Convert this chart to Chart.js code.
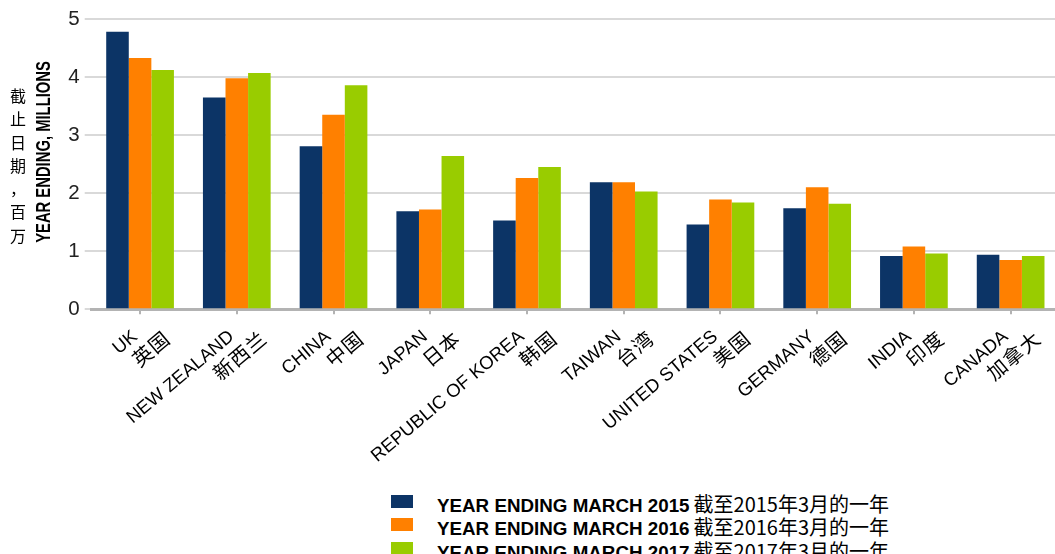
<!DOCTYPE html>
<html>
<head>
<meta charset="utf-8">
<script src="https://cdn.jsdelivr.net/npm/chart.js@4"></script>
<style>
  html, body { margin:0; padding:0; background:#fff; width:1055px; height:554px; overflow:hidden; }
  #wrap { position:absolute; left:0; top:0; width:1059px; height:480px; }
  #ytitle { position:absolute; left:43px; top:152px; transform: translate(-50%,-50%) rotate(-90deg) scaleX(0.74);
            font: bold 20px "Liberation Sans", Arial, sans-serif; white-space:nowrap; color:#000; }
  #ytitleZh { position:absolute; left:9px; top:84px; width:18px; text-align:center;
              font: 16px "Noto Sans CJK SC", sans-serif; line-height:23.3px; color:#000; }
  #legend { position:absolute; left:391px; top:489px; }
  .row { position:relative; height:23.3px; white-space:nowrap; }
  .box { position:absolute; left:0; top:6px; width:22px; height:13px; }
  .txt { position:absolute; left:46px; top:0; line-height:23.3px; color:#000; }
  .en { font: bold 18.8px "Liberation Sans", Arial, sans-serif; }
  .zh { font: 20px "Noto Sans CJK SC", sans-serif; }
</style>
</head>
<body>
<div id="wrap"><canvas id="c" width="1059" height="480"></canvas></div>
<div id="ytitle">YEAR ENDING, MILLIONS</div>
<div id="ytitleZh"></div>
<div id="legend"></div>
<script>
const categoriesEn = ['UK','NEW ZEALAND','CHINA','JAPAN','REPUBLIC OF KOREA','TAIWAN','UNITED STATES','GERMANY','INDIA','CANADA'];
const categoriesZh = ['英国','新西兰','中国','日本','韩国','台湾','美国','德国','印度','加拿大'];
const values2015 = [4.78,3.65,2.81,1.69,1.53,2.19,1.46,1.74,0.92,0.94];
const values2016 = [4.33,3.98,3.35,1.72,2.26,2.19,1.89,2.10,1.08,0.85];
const values2017 = [4.12,4.07,3.86,2.64,2.45,2.03,1.84,1.82,0.96,0.92];
const seriesEn = ['YEAR ENDING MARCH 2015','YEAR ENDING MARCH 2016','YEAR ENDING MARCH 2017'];
const seriesZh = ['截至2015年3月的一年','截至2016年3月的一年','截至2017年3月的一年'];
const seriesColors = ['#0c3466','#ff8000','#99cc00'];
const yTitleZh = ['截','止','日','期','，','百','万'];
const yTicks = [0,1,2,3,4,5];

const seriesValues = [values2015, values2016, values2017];

// Draws the two-part (English + Chinese) rotated category labels at the x scale's tick pixels
const xLabelPlugin = {
  id: 'xLabels',
  afterDraw(chart) {
    const xs = chart.scales.x;
    const ctx = chart.ctx;
    const base = chart.chartArea.bottom;
    const ang = -40 * Math.PI / 180;
    ctx.save();
    ctx.fillStyle = '#000';
    ctx.textAlign = 'right';
    ctx.textBaseline = 'middle';
    xs.ticks.forEach((t, i) => {
      const px = xs.getPixelForTick(i);
      ctx.save();
      ctx.translate(px - 5, base + 25);
      ctx.rotate(ang);
      ctx.font = '18.5px "Liberation Sans", Arial, sans-serif';
      ctx.fillText(categoriesEn[i], 0, 0);
      ctx.restore();
      ctx.save();
      ctx.translate(px + 27, base + 26);
      ctx.rotate(ang);
      ctx.font = '20px "Noto Sans CJK SC", sans-serif';
      if ('letterSpacing' in ctx) ctx.letterSpacing = '1px';
      ctx.fillText(categoriesZh[i], 0, 0);
      ctx.restore();
    });
    ctx.restore();
  }
};

const chart = new Chart(document.getElementById('c'), {
  type: 'bar',
  data: {
    labels: categoriesEn,
    datasets: seriesValues.map((v,i)=>({
      label: seriesEn[i] + ' ' + seriesZh[i],
      data: v,
      backgroundColor: seriesColors[i],
      borderWidth: 0,
      categoryPercentage: 0.70,
      barPercentage: 1.0
    }))
  },
  plugins: [xLabelPlugin],
  options: {
    responsive: false,
    devicePixelRatio: 1,
    animation: false,
    layout: { padding: { top: 19, right: 0, bottom: 0, left: 0 } },
    plugins: { legend: { display: false }, tooltip: { enabled: false } },
    scales: {
      x: {
        z: 1,
        grid: { display: true, drawOnChartArea: false, drawTicks: true, tickLength: 5, offset: false, color: '#b3b3b3', lineWidth: 2 },
        border: { display: true, color: '#b3b3b3', width: 3 },
        ticks: { display: false, autoSkip: false },
        afterFit: (s) => { s.height = 480 - 309.3; }
      },
      y: {
        min: 0, max: 5,
        afterBuildTicks: (s) => { s.ticks = yTicks.map(v => ({ value: v })); },
        grid: { color: '#d9d9d9', lineWidth: 2, tickLength: 7, drawTicks: true },
        border: { display: false },
        ticks: { padding: 5, color: '#222', font: { family: '"Liberation Sans", sans-serif', size: 20.5 } },
        afterFit: (s) => { s.width = 91.7; }
      }
    }
  }
});

document.getElementById('ytitleZh').innerHTML = yTitleZh.map(c => '<div>' + c + '</div>').join('');
document.getElementById('legend').innerHTML = seriesEn.map((e,i) =>
  '<div class="row"><div class="box" style="background:' + seriesColors[i] + '"></div>' +
  '<div class="txt"><span class="en">' + e + '</span> <span class="zh">' + seriesZh[i] + '</span></div></div>'
).join('');
</script>
</body>
</html>
